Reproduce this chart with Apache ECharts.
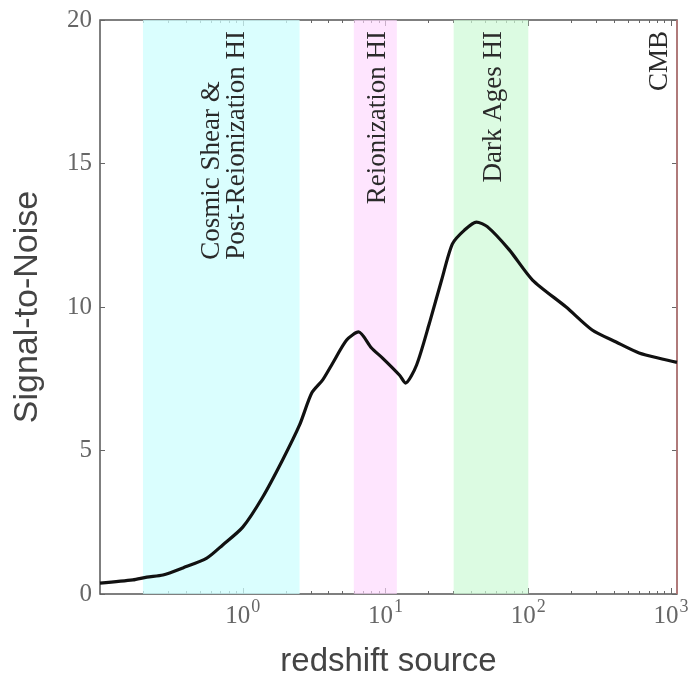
<!DOCTYPE html>
<html>
<head>
<meta charset="utf-8">
<script src="https://cdn.jsdelivr.net/npm/echarts@6/dist/echarts.min.js"></script>
<style>
  html, body { margin: 0; padding: 0; background: #ffffff; }
  #chart { width: 692px; height: 675px; }
</style>
</head>
<body>
<div id="chart"></div>
<script>
// Source redshift and the corresponding lensing signal-to-noise
const redshift = [0.1, 0.17, 0.213, 0.276, 0.381, 0.56, 0.724, 1.0, 1.38, 1.9, 2.5, 3.04, 3.63, 4.26,
  5.34, 6.47, 7.98, 9.53, 12.5, 13.8, 16.5, 20.3, 24.7, 29.4, 35.7, 43.3, 51.6, 73.6, 107, 184, 280,
  412, 597, 865, 1100];
const snr = [0.38, 0.49, 0.59, 0.66, 0.91, 1.25, 1.71, 2.33, 3.38, 4.67, 5.89, 7.0, 7.46, 8.04,
  8.85, 9.13, 8.57, 8.22, 7.63, 7.35, 7.98, 9.44, 10.94, 12.2, 12.68, 12.96, 12.8, 11.99, 10.94, 10.0, 9.2,
  8.78, 8.4, 8.19, 8.07];

// Shaded source populations (redshift ranges) and their names
const bandNames = [['Cosmic Shear &', 'Post-Reionization HI'], ['Reionization HI'], ['Dark Ages HI']];
const bandStart = [0.2, 6, 30];
const bandEnd = [2.5, 12, 100];
const cmbRedshift = 1100;
const cmbName = 'CMB';

// Axis ticks
const xMajorTicks = [1, 10, 100, 1000];
const xMinorTicks = [0.2, 0.3, 0.4, 0.5, 0.6, 0.7, 0.8, 0.9, 2, 3, 4, 5, 6, 7, 8, 9,
  20, 30, 40, 50, 60, 70, 80, 90, 200, 300, 400, 500, 600, 700, 800, 900];

const bandColors = ['rgba(205,253,253,0.75)', 'rgba(253,215,253,0.65)', 'rgba(205,249,213,0.7)'];

const serif = '"Liberation Serif", "DejaVu Serif", serif';
const sans = '"Liberation Sans", Arial, sans-serif';
const tickColor = '#666';

const chart = echarts.init(document.getElementById('chart'), null, { renderer: 'canvas' });

function xAxisDef(position, custom, len, extra) {
  return Object.assign({
    type: 'log',
    logBase: 10,
    min: 0.1,
    max: 1100,
    position: position,
    gridIndex: 0,
    axisLine: { show: false },
    splitLine: { show: false },
    axisTick: { show: true, inside: true, length: len, customValues: custom,
      lineStyle: { color: tickColor, width: 1 } },
    axisLabel: { show: false }
  }, extra || {});
}

const option = {
  animation: false,
  backgroundColor: '#ffffff',
  grid: {
    left: 100, top: 20, width: 577, height: 574,
    outerBoundsMode: 'none',
    containLabel: false,
    show: true, borderColor: '#555', borderWidth: 1.5, backgroundColor: 'transparent'
  },
  xAxis: [
    xAxisDef('bottom', xMajorTicks, 6, {
      name: 'redshift source',
      nameLocation: 'middle',
      nameGap: 51,
      nameTextStyle: { fontFamily: sans, fontSize: 33, color: '#444' },
      axisLabel: {
        show: true,
        customValues: xMajorTicks,
        margin: 4,
        formatter: function (v) {
          const e = Math.round(Math.log10(v));
          return '{b|10}{s|' + e + '}';
        },
        rich: {
          b: { fontFamily: serif, fontSize: 25, color: tickColor, lineHeight: 36 },
          s: { fontFamily: serif, fontSize: 18, color: tickColor, verticalAlign: 'top', lineHeight: 14, padding: [0, 0, 0, 1] }
        }
      }
    }),
    xAxisDef('bottom', xMinorTicks, 3),
    xAxisDef('top', xMajorTicks, 6),
    xAxisDef('top', xMinorTicks, 3)
  ],
  yAxis: [
    {
      type: 'value', min: 0, max: 20, interval: 5, position: 'left',
      name: 'Signal-to-Noise',
      nameLocation: 'middle',
      nameGap: 55,
      nameTextStyle: { fontFamily: sans, fontSize: 34, color: '#444' },
      axisLine: { show: false },
      splitLine: { show: false },
      axisTick: { show: true, inside: true, length: 5, lineStyle: { color: tickColor } },
      axisLabel: { show: true, margin: 8, fontFamily: serif, fontSize: 25, color: tickColor }
    },
    {
      type: 'value', min: 0, max: 20, interval: 5, position: 'right',
      axisLine: { show: false },
      splitLine: { show: false },
      axisTick: { show: true, inside: true, length: 5, lineStyle: { color: tickColor } },
      axisLabel: { show: false }
    }
  ],
  series: [
    {
      type: 'line',
      xAxisIndex: 0,
      yAxisIndex: 0,
      data: redshift.map((z, i) => [z, snr[i]]),
      showSymbol: false,
      smooth: 0.25,
      lineStyle: { color: '#111', width: 3.2 },
      z: 5,
      markArea: {
        silent: true,
        data: bandStart.map((s, i) => [
          { xAxis: s, yAxis: 0, itemStyle: { color: bandColors[i] } },
          { xAxis: bandEnd[i], yAxis: 20 }
        ])
      },
      markLine: {
        silent: true,
        symbol: 'none',
        label: { show: false },
        lineStyle: { color: '#c07878', width: 1.5, type: 'solid' },
        data: [{ xAxis: cmbRedshift }]
      }
    }
  ]
};

chart.setOption(option);

// Rotated region labels placed from the axis scale
function placeLabels() {
  const elements = [];
  const topY = chart.convertToPixel({ yAxisIndex: 0 }, 20) + 11;
  const font = '27px ' + serif;
  const textStyle = { font: font, fill: '#2a2a2a', verticalAlign: 'middle' };
  bandNames.forEach((lines, i) => {
    const mid = Math.sqrt(bandStart[i] * bandEnd[i]);
    const cx = chart.convertToPixel({ xAxisIndex: 0 }, mid) + 3;
    if (lines.length === 1) {
      elements.push({
        type: 'text', x: cx, y: topY, rotation: Math.PI / 2, silent: true, z: 100,
        style: Object.assign({ text: lines[0], align: 'right' }, textStyle)
      });
    } else {
      // two lines, left-aligned along the column, the longer one reaching the top
      const gap = 25;
      const ctx = document.createElement('canvas').getContext('2d');
      ctx.font = font;
      const longest = Math.max.apply(null, lines.map(l => ctx.measureText(l).width));
      const baseY = topY + longest;
      lines.forEach((l, k) => {
        elements.push({
          type: 'text', x: cx + (k - (lines.length - 1) / 2) * gap, y: baseY,
          rotation: Math.PI / 2, silent: true, z: 100,
          style: Object.assign({ text: l, align: 'left' }, textStyle)
        });
      });
    }
  });
  const cmbX = chart.convertToPixel({ xAxisIndex: 0 }, cmbRedshift) - 17;
  elements.push({
    type: 'text', x: cmbX, y: topY, rotation: Math.PI / 2, silent: true, z: 100,
    style: Object.assign({ text: cmbName, align: 'right' }, textStyle)
  });
  chart.setOption({ graphic: { elements: elements } });
}
placeLabels();
</script>
</body>
</html>
